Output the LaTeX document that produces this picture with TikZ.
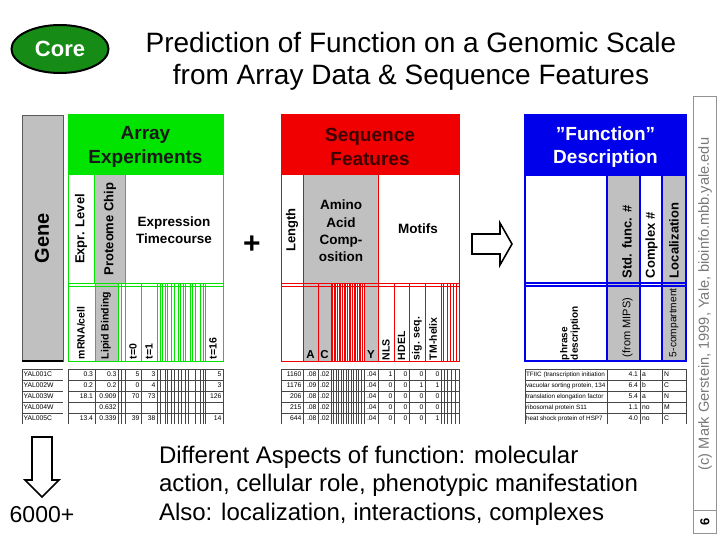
\documentclass[tikz,border=0pt]{standalone}
\usepackage{fontspec}
\setmainfont{Liberation Sans}
\usetikzlibrary{shapes.geometric}
\definecolor{agreen}{RGB}{0,228,0}
\definecolor{ared}{RGB}{240,0,0}
\definecolor{ablue}{RGB}{0,0,235}
\definecolor{agray}{RGB}{192,192,192}
\definecolor{coregreen}{RGB}{22,140,22}
\definecolor{darkred}{RGB}{60,0,0}
\definecolor{tline}{RGB}{70,70,70}
\begin{document}
\begin{tikzpicture}[x=1pt,y=-1pt,
  every node/.style={inner sep=0pt,outer sep=0pt},
  hdr/.style={align=center,font=\fontsize{19}{23.5}\selectfont\bfseries},
  ulab/.style={rotate=90,font=\fontsize{13}{16}\selectfont\bfseries},
  llab/.style={rotate=90,anchor=west,font=\fontsize{10.5}{12}\selectfont\bfseries},
  dtxt/.style={font=\fontsize{6.8}{8}\selectfont,anchor=east},
  gtxt/.style={font=\fontsize{6.8}{8}\selectfont,anchor=west},
  tl/.style={draw=tline,line width=0.6pt},
  hollow/.style={draw=black,line width=1.6pt,fill=white,line join=miter}]
\useasboundingbox[fill=white] (0,0) rectangle (720,540);

% Core badge and title
\node[ellipse,draw=black,line width=2pt,fill=coregreen,minimum width=97pt,minimum height=48pt,
      text=white,font=\fontsize{22}{26}\selectfont\bfseries] (core) at (60,49) {Core};
\node[anchor=base,font=\fontsize{28}{32}\selectfont] (title1) at (411,53) {Prediction of Function on a Genomic Scale};
\node[anchor=base,font=\fontsize{28}{32}\selectfont] (title2) at (411,85) {from Array Data \& Sequence Features};

% Gene column
\draw[draw=gray!70!black,fill=agray] (22,115) rectangle (63,361);
\draw[line width=2.5pt] (22,361) -- (63,361);
\node[rotate=90,font=\fontsize{20}{24}\selectfont\bfseries] (gene) at (42,238) {Gene};

% ---------------- Array Experiments ----------------
\fill[agreen] (68,115) rectangle (223,175);
\fill[agray] (94,175) rectangle (125,283);
\fill[agray] (95,283) rectangle (118,361);
\begin{scope}[draw=agreen,line width=1pt]
  \draw (68,115) rectangle (223,361);
  \draw (68,175) -- (223,175);
  \draw (68,283) -- (223,283);
  \draw (68,286) -- (223,286);
  \foreach \x in {94,125} \draw (\x,175) -- (\x,283);
  \foreach \x in {95,118,121.5,125,141,157,160,162.5,165,167.5,171,174,178,180.5,183,185.5,190,192.5,195,200,203,205}
    \draw (\x,283) -- (\x,361);
\end{scope}
\node[hdr,text=black!90] (arrhdr) at (145.5,147) {Array\\Experiments};
\node[ulab] (exprlev) at (81,229) {Expr. Level};
\node[ulab] (protchip) at (110,229) {Proteome Chip};
\node[align=center,font=\fontsize{13.5}{16.5}\selectfont\bfseries] (timecourse) at (174,230) {Expression\\Timecourse};
\node[llab] (mrna) at (81,359) {mRNA/cell};
\node[llab] (lipid) at (106,359) {Lipid Binding};
\node[llab] (t0) at (133,359) {t=0};
\node[llab] (t1) at (149,359) {t=1};
\node[llab] (t16) at (213,359) {t=16};

% Array data table
\foreach \i in {0,...,4} {
  \draw[tl] (22,369+11*\i) -- (63,369+11*\i);
  \draw[tl] (68,369+11*\i) -- (223,369+11*\i);
}
\draw[tl] (22,369) -- (22,424);
\foreach \x in {68,95,118,121.5,125,141,157,160,165,167.5,171,174,178,181,185,188,195,200,203,205,223}
  \draw[tl] (\x,369) -- (\x,424);
\foreach \i/\g/\m/\l/\ta/\tb/\tc in {0/YAL001C/0.3/0.3/5/3/5,1/YAL002W/0.2/0.2/0/4/3,2/YAL003W/18.1/0.909/70/73/126,3/YAL004W/ /0.632/ / / ,4/YAL005C/13.4/0.339/39/38/14} {
  \node[gtxt] (gn\i) at (23.5,374.5+11*\i) {\g};
  \node[dtxt] (dm\i) at (93,374.5+11*\i) {\m};
  \node[dtxt] (dl\i) at (116.5,374.5+11*\i) {\l};
  \node[dtxt] (da\i) at (139.5,374.5+11*\i) {\ta};
  \node[dtxt] (db\i) at (155.5,374.5+11*\i) {\tb};
  \node[dtxt] (dc\i) at (221.5,374.5+11*\i) {\tc};
}

% ---------------- Sequence Features ----------------
\fill[ared] (281,115) rectangle (459,175);
\fill[agray] (303,175) rectangle (378,283);
\fill[agray] (303,283) rectangle (331,361);
\fill[agray] (364,283) rectangle (378,361);
\begin{scope}[draw=ared,line width=1pt]
  \draw (281,115) rectangle (459,361);
  \draw (281,175) -- (459,175);
  \draw (281,283) -- (459,283);
  \draw (281,286) -- (459,286);
  \foreach \x in {303,378} \draw (\x,175) -- (\x,283);
  \foreach \x in {303,318,331,364,378,394,409,425,441,443.5,447,450,453,456}
    \draw (\x,283) -- (\x,361);
  \foreach \x in {332.5,335,...,363} \draw[line width=1.3pt] (\x,283) -- (\x,361);
\end{scope}
\node[hdr,text=darkred] (seqhdr) at (370,147) {Sequence\\Features};
\node[ulab] (length) at (292,230) {Length};
\node[align=center,font=\fontsize{13.5}{17.3}\selectfont\bfseries] (amino) at (341,231) {Amino\\Acid\\Comp-\\osition};
\node[font=\fontsize{13.5}{16}\selectfont\bfseries] (motifs) at (418,229) {Motifs};
\node[anchor=base,font=\fontsize{11.5}{13}\selectfont\bfseries] (aa) at (310.5,358) {A};
\node[anchor=base,font=\fontsize{11.5}{13}\selectfont\bfseries] (ac) at (324.5,358) {C};
\node[anchor=base,font=\fontsize{11.5}{13}\selectfont\bfseries] (ay) at (371,358) {Y};
\node[llab] (nls) at (386,360) {NLS};
\node[llab] (hdel) at (401.5,360) {HDEL};
\node[llab] (sigseq) at (417,360) {sig. seq.};
\node[llab] (tmhelix) at (433,360) {TM-helix};

% Sequence data table
\foreach \i in {0,...,4} \draw[tl] (281,369+11*\i) -- (459,369+11*\i);
\foreach \x in {281,303,318,331,364,378,394,409,425,441,444,447.5,451,455,459}
  \draw[tl] (\x,369) -- (\x,424);
\foreach \x in {333.5,336,...,362} \draw[tl,line width=0.4pt] (\x,369) -- (\x,424);
\foreach \i/\len/\A/\C/\Y/\n/\h/\s/\t in {0/1160/.08/.02/.04/1/0/0/0,1/1176/.09/.02/.04/0/0/1/1,2/206/.08/.02/.04/0/0/0/0,3/215/.08/.02/.04/0/0/0/0,4/644/.08/.02/.04/0/0/0/1} {
  \node[dtxt] (sl\i) at (301.5,374.5+11*\i) {\len};
  \node[dtxt] (sa\i) at (316.5,374.5+11*\i) {\A};
  \node[dtxt] (sc\i) at (329.5,374.5+11*\i) {\C};
  \node[dtxt] (sy\i) at (376.5,374.5+11*\i) {\Y};
  \node[dtxt] (sn\i) at (392.5,374.5+11*\i) {\n};
  \node[dtxt] (sh\i) at (407.5,374.5+11*\i) {\h};
  \node[dtxt] (ss\i) at (423.5,374.5+11*\i) {\s};
  \node[dtxt] (st\i) at (439.5,374.5+11*\i) {\t};
}

% ---------------- Function Description ----------------
\fill[ablue] (525,115) rectangle (686,175);
\fill[agray] (607,175) rectangle (640,361);
\fill[agray] (662,175) rectangle (686,361);
\begin{scope}[draw=ablue,line width=1.6pt]
  \draw (525,115) rectangle (686,361);
  \draw (525,175) -- (686,175);
  \draw (525,283) -- (686,283);
  \draw (525,286) -- (686,286);
  \foreach \x in {607,640,662} \draw (\x,175) -- (\x,361);
\end{scope}
\node[hdr,text=white] (funhdr) at (605.5,147) {\char34 Function\char34\\Description};
\node[ulab,anchor=west] (stdfunc) at (627,278) {Std. func. \#};
\node[ulab,anchor=west] (complex) at (651.5,278) {Complex \#};
\node[ulab,anchor=west] (local) at (674,278) {Localization};
\node[rotate=90,anchor=south west,align=left,font=\fontsize{10}{10.5}\selectfont\bfseries] (phrase) at (580,360) {phrase\\description};
\node[llab,font=\fontsize{11}{12}\selectfont] (mips) at (627.5,357) {(from MIPS)};
\node[llab,font=\fontsize{10.2}{12}\selectfont] (compart) at (674,357) {5-compartment};

% Function data table
\foreach \i in {0,...,4} \draw[tl] (525,369+11*\i) -- (686,369+11*\i);
\foreach \x in {525,607,640,662,686} \draw[tl] (\x,369) -- (\x,424);
\begin{scope}
  \clip (525,369) rectangle (606.5,424);
  \foreach \i/\p in {0/{TFIIC (transcription initiation},1/{vacuolar sorting protein, 134},2/{translation elongation factor},3/{ribosomal protein S11},4/{heat shock protein of HSP7}}
    \node[gtxt,font=\fontsize{6.3}{7}\selectfont] (fp\i) at (526,374.5+11*\i) {\p};
\end{scope}
\foreach \i/\v/\c/\l in {0/4.1/a/N,1/6.4/b/C,2/5.4/a/N,3/1.1/no/M,4/4.0/no/C} {
  \node[dtxt] (fv\i) at (638,374.5+11*\i) {\v};
  \node[gtxt] (fc\i) at (642,374.5+11*\i) {\c};
  \node[gtxt] (fl\i) at (664,374.5+11*\i) {\l};
}

% Plus and arrows
\node[font=\fontsize{30}{30}\selectfont\bfseries] (plus) at (252,245) {+};
\draw[hollow] (472,234) -- (500,234) -- (500,223) -- (512,244) -- (500,265) -- (500,254) -- (472,254) -- cycle;
\draw[hollow] (32,437) -- (52,437) -- (52,480) -- (59,480) -- (42,497) -- (25,480) -- (32,480) -- cycle;
\node[font=\fontsize{23}{26}\selectfont] (count) at (42,515) {6000+};

% Bottom description
\node[anchor=base west,font=\fontsize{24}{28}\selectfont] (desc1) at (159,463) {Different Aspects of function: molecular};
\node[anchor=base west,font=\fontsize{24}{28}\selectfont] (desc2) at (159,491) {action, cellular role, phenotypic manifestation};
\node[anchor=base west,font=\fontsize{24}{28}\selectfont] (desc3) at (159,520) {Also: localization, interactions, complexes};

% Copyright strip
\draw[draw=gray!85,line width=1pt] (693,97) rectangle (716,533);
\draw[draw=gray!85,line width=1pt] (693,510) -- (716,510);
\node[rotate=90,text=gray!95!black,font=\fontsize{14.6}{16}\selectfont] (copy) at (705,304) {(c) Mark Gerstein, 1999, Yale, bioinfo.mbb.yale.edu};
\node[rotate=90,font=\fontsize{13}{15}\selectfont\bfseries] (pagenum) at (705,522) {6};
\end{tikzpicture}
\end{document}
